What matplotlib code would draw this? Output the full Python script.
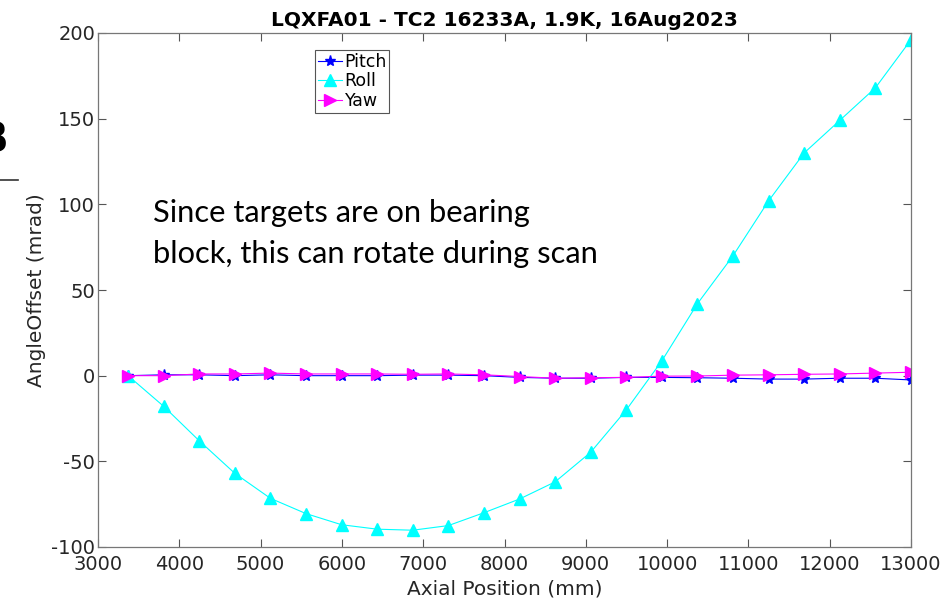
import matplotlib
matplotlib.use("Agg")
import matplotlib.pyplot as plt
from matplotlib.lines import Line2D

plt.rcParams["axes.unicode_minus"] = False

# Data
axial_mm = [3370, 3808, 4245, 4683, 5121, 5558, 5996, 6434, 6871, 7309, 7747,
            8185, 8622, 9060, 9498, 9935, 10373, 10811, 11248, 11686, 12124,
            12562, 12999]
pitch = [0.0, 0.5, 0.5, 0.0, 0.5, 0.0, 0.0, 0.0, 0.3, 0.3, 0.0,
         -1.0, -1.5, -1.5, -1.0, -1.0, -1.2, -1.5, -2.0, -2.0, -1.5, -1.5, -2.5]
roll = [0.0, -17.9, -38.0, -57.0, -71.6, -80.5, -87.0, -89.6, -90.2, -87.5, -80.0,
        -72.0, -62.0, -44.7, -20.0, 8.6, 42.0, 70.0, 102.0, 130.0, 149.0, 168.0, 196.0]
yaw = [0.0, 0.0, 1.0, 1.0, 1.5, 1.0, 1.0, 1.0, 0.8, 1.0, 0.5,
       -0.5, -1.5, -1.2, -1.0, -0.3, -0.2, 0.3, 0.5, 0.8, 1.0, 1.5, 2.0]
series_names = ["Pitch", "Roll", "Yaw"]
xticks = list(range(3000, 13001, 1000))
yticks = list(range(-100, 201, 50))

title = "LQXFA01 - TC2 16233A, 1.9K, 16Aug2023"
note = "Since targets are on bearing\nblock, this can rotate during scan"

fig = plt.figure(figsize=(9.48, 6.02), dpi=100)
ax = fig.add_axes([98/948, 1-547/602, (911-98)/948, (547-33)/602])

ax.plot(axial_mm, pitch, color=(0, 0, 1), lw=0.8, marker="*", ms=8, label=series_names[0])
ax.plot(axial_mm, roll, color=(0, 1, 1), lw=0.8, marker="^", ms=8, label=series_names[1])
ax.plot(axial_mm, yaw, color=(1, 0, 1), lw=0.8, marker=">", ms=8, label=series_names[2])

ax.set_xlim(3000, 13000)
ax.set_ylim(-100, 200)
ax.set_xticks(xticks)
ax.set_yticks(yticks)
ax.tick_params(direction="in", length=6, width=0.8, top=True, right=True,
               labelsize=14, labelcolor="#262626", color="#555555", pad=2)
ax.tick_params(axis="x", pad=6)
for s in ax.spines.values():
    s.set_color("#777777")
    s.set_linewidth(0.9)

ax.set_title(title, fontsize=14.5, fontweight="bold", pad=5)
ax.set_xlabel("Axial Position (mm)", fontsize=14.5, color="#262626", labelpad=4)
ax.set_ylabel("AngleOffset (mrad)", fontsize=14.5, color="#262626", labelpad=4)

leg = ax.legend(loc="upper left", bbox_to_anchor=(315/948, 1-50/602),
                bbox_transform=fig.transFigure, fontsize=12.5, frameon=True,
                fancybox=False, edgecolor="#555555", framealpha=1,
                handlelength=1.4, handletextpad=0.15, labelspacing=0.1,
                borderpad=0.15, borderaxespad=0)
leg.get_frame().set_linewidth(0.8)

fig.text(153/948, 1-199/602, note, fontsize=22.2, family="Lato", va="top",
         ha="left", linespacing=1.55, color="black")

# cropped slide artifacts at left edge
fig.text(8/948, 1-140/602, "B", fontsize=30, fontweight="bold", ha="right",
         va="center", color="black")
fig.add_artist(Line2D([0, 18/948], [1-180/602, 1-180/602], color="#333333",
                      lw=1.2, transform=fig.transFigure))

fig.savefig("out.png", dpi=100)
